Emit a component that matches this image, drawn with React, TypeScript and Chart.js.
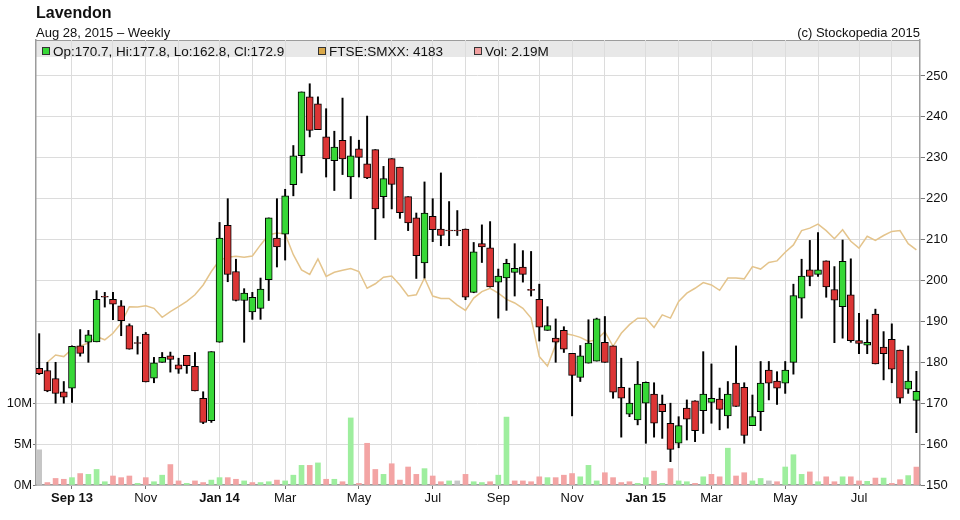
import { useEffect, useRef } from 'react';
import { Chart, registerables } from 'chart.js';

Chart.register(...registerables);

// Weekly candles, week of 5 Aug 2013 (index 0) to week of 24 Aug 2015 (index 107)
const opens = [
  178.5, 178, 176, 172.8, 173.7, 184, 184.9, 185, 196, 195.4,
  193.8, 189, 184.8, 186.9, 176.1, 180, 181.6, 179.4, 181.7, 179,
  171.2, 165.7, 184.9, 213.5, 202.2, 195.1, 192.3, 193.2, 200.2, 210.4,
  211.3, 223.4, 230.5, 244.9, 243.2, 235.1, 229.3, 234.3, 225.3, 232.2,
  228.5, 232, 220.5, 229.8, 227.7, 220.5, 215.3, 204.3, 215.7, 212.6,
  212.3, 212.2, 212.6, 197.1, 209, 208, 199.6, 200.6, 202, 203.3,
  197.8, 195.4, 187.8, 185.9, 187.8, 182.2, 176.3, 179.8, 180.3, 184.9,
  184, 173.9, 167.3, 165.9, 170, 172.2, 169.7, 165.1, 160.2, 168.8,
  170.6, 168.2, 170.2, 171, 166.9, 174.9, 173.9, 164.5, 167.9, 178.1,
  175.4, 174.9, 180, 195.7, 202.6, 201.5, 204.8, 197.8, 193.6, 196.5,
  185.3, 184.2, 191.8, 183.7, 185.6, 183, 173.4, 170.7,
];
const highs = [
  187, 180, 180, 175.3, 184, 188, 187.8, 197.5, 197.1, 197.1,
  195.1, 189.4, 186.3, 187.3, 181.2, 182.4, 182.5, 181, 181.7, 182.4,
  172.8, 182.6, 214.2, 220, 205.2, 198, 197.1, 200.6, 215.3, 220,
  222.3, 233, 246.1, 248.1, 244.9, 242, 236.5, 244.6, 235.2, 234.3,
  240.2, 232, 227.9, 229.8, 227.7, 220.5, 216.5, 224.1, 220, 226.3,
  219.3, 217.1, 212.6, 209.3, 213.6, 214.4, 202.8, 205.2, 209, 207.3,
  207.1, 199.1, 193.6, 190.6, 188.7, 182.2, 184.1, 190.4, 190.8, 191.2,
  184, 181, 173.7, 180.2, 175.2, 175, 172, 170, 166.7, 170.8,
  170.6, 182.6, 179.6, 173.7, 175.3, 184, 175, 172, 180.2, 180.2,
  177.7, 180.2, 199.1, 205.2, 209.8, 211.7, 204.8, 203.4, 209.9, 205.3,
  192, 190.4, 193, 187.5, 189.4, 183, 184, 177.8,
];
const lows = [
  177, 172.8, 170, 170, 170.2, 181.5, 180, 185, 193.5, 190.4,
  186.5, 183.2, 182, 175.2, 175, 180, 177.6, 177.3, 177.3, 173,
  165, 165.3, 184.9, 199.7, 195, 184.9, 190.5, 190.5, 195.1, 203.3,
  205, 220.7, 226.3, 235.1, 236.9, 225.3, 222, 225.9, 220, 225.3,
  224.9, 210, 215.3, 217.5, 215.2, 212.2, 200.5, 200.6, 209.5, 208.5,
  208.5, 211, 195.3, 197, 204.4, 198.4, 190.8, 192.7, 196.2, 199.6,
  196.2, 185.2, 187.8, 180, 182.4, 166.9, 175.3, 179.8, 180.3, 180,
  171.2, 161.7, 166.7, 164.7, 160.2, 161.7, 161.4, 155.7, 159.1, 161,
  160.6, 162.6, 165.1, 163.5, 163.9, 169.2, 160.2, 164.5, 163.3, 170.8,
  169.7, 172.4, 177.1, 190.8, 198.7, 201, 195.9, 184.8, 185.9, 184.9,
  182.1, 182.1, 179.6, 175.7, 175, 170, 172.4, 162.8,
];
const closes = [
  177.2, 173, 172.4, 171.5, 183.9, 182.2, 186.7, 195.4, 195.9, 194.2,
  190.2, 183.2, 184.6, 175.2, 179.9, 181.2, 180.7, 178.3, 179.2, 173,
  165.3, 182.6, 210.4, 201.5, 195.1, 196.9, 195.9, 197.9, 215.3, 208.2,
  220.7, 230.5, 246.1, 236.7, 236.9, 229.7, 232.6, 229.7, 230.5, 230.1,
  225.1, 217.5, 224.9, 223.5, 216.6, 214.1, 206.1, 216.5, 212.4, 211,
  212.1, 212.1, 195.9, 207, 208.2, 198.4, 201.1, 204.2, 203, 201.5,
  197.6, 188.6, 189, 184.9, 183.2, 176.8, 181.6, 184.7, 190.6, 180,
  172.7, 171.2, 170, 174.7, 175.1, 165.1, 167.9, 158.7, 164.5, 166.1,
  163.3, 172.2, 171.2, 168.5, 172.2, 169.2, 162.1, 166.7, 174.9, 174.9,
  173.7, 178.1, 196.3, 201.1, 201, 202.6, 198.4, 195.2, 204.7, 185.3,
  184.6, 184.9, 179.6, 182.1, 178.3, 171.2, 175.4, 172.9,
];
// Weekly volume, millions of shares
const volumesM = [
  4.3, 0.3, 0.8, 0.7, 0.9, 1.4, 1.3, 1.9, 0.4, 1.1,
  0.9, 1.1, 0.2, 0.9, 0.4, 1.2, 2.5, 0.5, 0.2, 0.5,
  0.3, 0.6, 0.9, 0.9, 0.7, 0.5, 0.3, 0.3, 0.4, 0.6,
  0.5, 1.2, 2.4, 2.4, 2.7, 0.7, 0.7, 0.4, 8.2, 0.2,
  5.1, 1.9, 1.3, 2.6, 0.6, 2.2, 1.3, 2.0, 1.1, 0.4,
  0.5, 0.5, 1.3, 0.4, 0.3, 0.4, 1.2, 8.3, 0.5, 0.5,
  0.4, 1.0, 0.9, 0.9, 1.2, 1.4, 1.0, 2.4, 0.5, 1.5,
  0.9, 0.3, 0.4, 0.2, 0.9, 1.7, 0.2, 2.0, 0.5, 0.4,
  0.2, 1.0, 1.3, 1.0, 4.5, 1.1, 1.5, 0.5, 0.8, 0.5,
  0.4, 2.2, 3.7, 1.3, 1.6, 0.4, 1.0, 0.4, 1.0, 1.0,
  0.5, 0.45, 0.85, 0.85, 0.2, 0.65, 1.15, 2.19,
];
// FTSE SmallCap comparison line, rebased onto the price axis
const ftseLine: (number | null)[] = [
  null, 180, 181.8, 181.4, 183.2, 184, 184.7, 186.3, 185.5, 187.1,
  189.6, 193.6, 193.5, 193.8, 193.2, 191, 192.4, 193.6, 194.9, 196.5,
  198.9, 202.2, 205, 205.7, 205.9, 205.7, 206, 208.7, 211.2, 211.6,
  211.4, 206.3, 202.6, 201.5, 205.3, 201, 202, 202.5, 202.9, 202.2,
  198.1, 199.2, 200.8, 201.1, 198.9, 196.2, 196.5, 200.6, 196.2, 195.6,
  195.6, 194, 192.7, 195.7, 197.3, 198.1, 196.9, 195.4, 194.5, 193.2,
  190.8, 181.4, 179.1, 184.3, 187.1, 186.7, 186.1, 185.1, 185.5, 187.5,
  183.9, 187.1, 189.2, 190.8, 190.8, 188.5, 191.6, 190.8, 194.9, 196.9,
  198.1, 199.5, 198.9, 197.6, 200.6, 200.6, 200.4, 203.4, 202.8, 204.4,
  204.8, 206.9, 208.7, 212.2, 212.8, 213.8, 212.2, 210.2, 212.4, 209.6,
  207.9, 210.8, 209.8, 211, 212, 212.2, 209, 207.5,
];
// First week of each month (index into the weekly series) and its label
const monthStartIdx = [4, 9, 13, 17, 22, 26, 30, 35, 39, 43, 48, 52, 56, 61, 65, 69, 74, 78, 82, 87, 91, 95, 100, 104];
const monthTickLabels = ['Sep 13', '', 'Nov', '', 'Jan 14', '', 'Mar', '', 'May', '', 'Jul', '', 'Sep', '', 'Nov', '', 'Jan 15', '', 'Mar', '', 'May', '', 'Jul', ''];
const priceTicks = [150, 160, 170, 180, 190, 200, 210, 220, 230, 240, 250];
const volumeTicksM = [0, 5, 10];

const FONT = "'Liberation Sans', Arial, sans-serif";
const GREEN = '#37d837';
const RED = '#dc3535';
const GRID = '#dcdcdc';
const AXIS = '#9c9c9c';

const labelFor = (v: number) => {
  const k = monthStartIdx.indexOf(v);
  return k >= 0 ? monthTickLabels[k] : '';
};

const framePlugin = {
  id: 'stockFrame',
  beforeDraw(chart: any) {
    const { ctx, chartArea: a } = chart;
    ctx.save();
    ctx.fillStyle = '#e8e8e8';
    ctx.fillRect(a.left, a.top, a.right - a.left, 17);
    ctx.strokeStyle = AXIS;
    ctx.lineWidth = 1;
    ctx.beginPath();
    ctx.moveTo(a.left, a.top + 0.5);
    ctx.lineTo(a.right, a.top + 0.5);
    ctx.stroke();
    ctx.restore();
  },
  afterDraw(chart: any) {
    const { ctx, chartArea: a } = chart;
    ctx.save();
    ctx.fillStyle = '#111';
    ctx.textBaseline = 'alphabetic';
    ctx.font = `bold 16px ${FONT}`;
    ctx.fillText('Lavendon', 36, 18);
    ctx.font = `13px ${FONT}`;
    ctx.fillText('Aug 28, 2015 \u2013 Weekly', 36, 37);
    ctx.textAlign = 'right';
    ctx.fillText('(c) Stockopedia 2015', a.right, 37);
    ctx.textAlign = 'left';
    const items = [
      { x: 42, color: GREEN, text: 'Op:170.7, Hi:177.8, Lo:162.8, Cl:172.9' },
      { x: 318, color: '#d9a84a', text: 'FTSE:SMXX: 4183' },
      { x: 474, color: '#f2a0a0', text: 'Vol: 2.19M' },
    ];
    ctx.font = `13.5px ${FONT}`;
    for (const it of items) {
      ctx.fillStyle = it.color;
      ctx.fillRect(it.x, 47, 8, 8);
      ctx.strokeStyle = '#333';
      ctx.lineWidth = 1;
      ctx.strokeRect(it.x + 0.5, 47.5, 7, 7);
      ctx.fillStyle = '#111';
      ctx.fillText(it.text, it.x + 11, 55.5);
    }
    ctx.restore();
  },
};

export default function App() {
  const ref = useRef<HTMLCanvasElement>(null);

  useEffect(() => {
    document.body.style.margin = '0';
    const idx = opens.map((_, i) => i);
    const bodyColors = idx.map((i) => (closes[i] >= opens[i] ? GREEN : RED));
    const volColors = idx.map((i) =>
      i === 0 || closes[i] === closes[i - 1] ? '#c6c6c6' : closes[i] > closes[i - 1] ? '#9eee9e' : '#f3a4a4'
    );

    const chart = new Chart(ref.current as HTMLCanvasElement, {
      type: 'bar',
      data: {
        datasets: [
          {
            type: 'bar',
            label: 'Body',
            data: idx.map((i) => ({ x: i, y: [opens[i], closes[i]] })) as any,
            backgroundColor: bodyColors,
            borderColor: '#000',
            borderWidth: 1,
            borderSkipped: false,
            barThickness: 7,
            minBarLength: 1,
            grouped: false,
            yAxisID: 'y',
            order: 1,
          } as any,
          {
            type: 'bar',
            label: 'Wick',
            data: idx.map((i) => ({ x: i, y: [lows[i], highs[i]] })) as any,
            backgroundColor: '#000',
            borderWidth: 0,
            barThickness: 1.3,
            grouped: false,
            yAxisID: 'y',
            order: 2,
          } as any,
          {
            type: 'line',
            label: 'FTSE:SMXX',
            data: idx.map((i) => ({ x: i, y: ftseLine[i] })) as any,
            borderColor: '#e4c48c',
            borderWidth: 1.5,
            pointRadius: 0,
            tension: 0,
            yAxisID: 'y',
            order: 3,
          } as any,
          {
            type: 'bar',
            label: 'Vol',
            data: idx.map((i) => ({ x: i, y: volumesM[i] * 1e6 })) as any,
            backgroundColor: volColors,
            borderWidth: 0,
            barThickness: 5,
            grouped: false,
            yAxisID: 'yv',
            order: 4,
          } as any,
        ],
      },
      options: {
        responsive: false,
        animation: false,
        devicePixelRatio: 1,
        layout: { padding: { top: 40, left: 0, right: 0, bottom: 0 } },
        plugins: { legend: { display: false }, tooltip: { enabled: false } },
        scales: {
          x: {
            type: 'linear',
            offset: false,
            min: -0.39,
            max: 107.44,
            afterBuildTicks: (s: any) => {
              s.ticks = monthStartIdx.map((v) => ({ value: v }));
            },
            afterFit: (s: any) => {
              s.height = 35;
            },
            grid: {
              offset: false,
              color: GRID,
              lineWidth: 1,
              tickLength: 4,
              tickColor: (c: any) => (c.tick && labelFor(c.tick.value) ? '#777' : 'rgba(0,0,0,0)'),
            },
            border: { color: AXIS, width: 1.5 },
            ticks: {
              autoSkip: false,
              maxRotation: 0,
              padding: 2,
              color: '#111',
              font: (c: any) => {
                const l = c.tick ? labelFor(c.tick.value) : '';
                return { family: FONT, size: 13, weight: /\d/.test(l) ? 'bold' : 'normal' };
              },
              callback: (v: any) => labelFor(Number(v)),
            },
          },
          y: {
            type: 'linear',
            position: 'right',
            min: 150,
            max: 258.8,
            afterBuildTicks: (s: any) => {
              s.ticks = priceTicks.map((v) => ({ value: v }));
            },
            afterFit: (s: any) => {
              s.width = 40;
            },
            grid: { color: GRID, lineWidth: 1, tickLength: 5, tickColor: '#777' },
            border: { color: AXIS, width: 1.5 },
            ticks: {
              padding: 1,
              color: '#111',
              font: { family: FONT, size: 13 },
              callback: (v: any) => String(v),
            },
          },
          yv: {
            type: 'linear',
            position: 'left',
            min: 0,
            max: 54.4e6,
            afterBuildTicks: (s: any) => {
              s.ticks = volumeTicksM.map((v) => ({ value: v * 1e6 }));
            },
            afterFit: (s: any) => {
              s.width = 36;
            },
            grid: { drawOnChartArea: false, tickLength: 3, tickColor: '#777' },
            border: { color: AXIS, width: 1.5 },
            ticks: {
              padding: 1,
              color: '#111',
              font: { family: FONT, size: 13 },
              callback: (v: any) => `${Math.round(Number(v) / 1e6)}M`,
            },
          },
        },
      },
      plugins: [framePlugin],
    });
    return () => chart.destroy();
  }, []);

  return (
    <div style={{ width: 960, height: 520, position: 'relative', background: '#fff' }}>
      <canvas ref={ref} width={960} height={520} style={{ display: 'block' }} />
    </div>
  );
}
